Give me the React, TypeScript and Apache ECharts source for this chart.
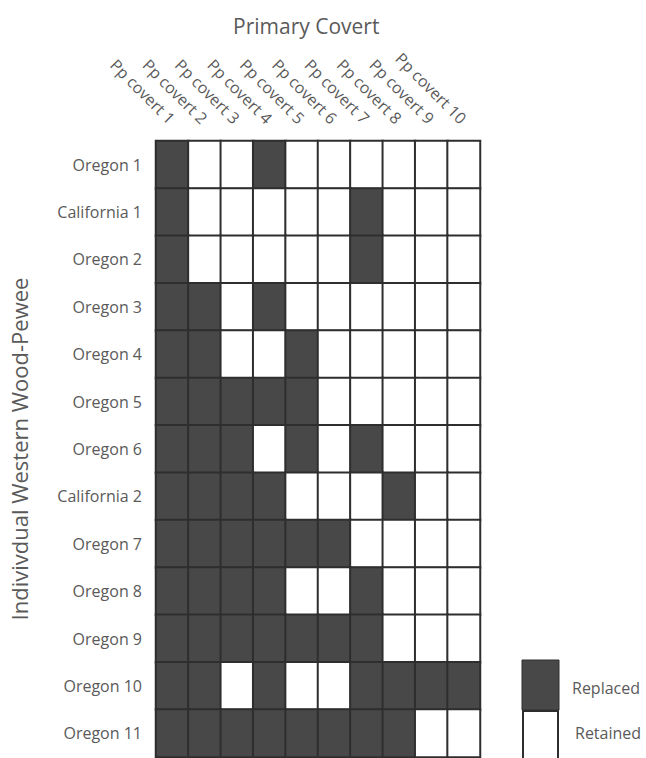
import React, { useEffect, useRef } from "react";
import * as echarts from "echarts";

const covers = ["Pp covert 1", "Pp covert 2", "Pp covert 3", "Pp covert 4", "Pp covert 5", "Pp covert 6", "Pp covert 7", "Pp covert 8", "Pp covert 9", "Pp covert 10"];
const individuals = ["Oregon 1", "California 1", "Oregon 2", "Oregon 3", "Oregon 4", "Oregon 5", "Oregon 6", "California 2", "Oregon 7", "Oregon 8", "Oregon 9", "Oregon 10", "Oregon 11"];

// 1 = Replaced, 0 = Retained
const oregon1 = [1, 0, 0, 1, 0, 0, 0, 0, 0, 0];
const california1 = [1, 0, 0, 0, 0, 0, 1, 0, 0, 0];
const oregon2 = [1, 0, 0, 0, 0, 0, 1, 0, 0, 0];
const oregon3 = [1, 1, 0, 1, 0, 0, 0, 0, 0, 0];
const oregon4 = [1, 1, 0, 0, 1, 0, 0, 0, 0, 0];
const oregon5 = [1, 1, 1, 1, 1, 0, 0, 0, 0, 0];
const oregon6 = [1, 1, 1, 0, 1, 0, 1, 0, 0, 0];
const california2 = [1, 1, 1, 1, 0, 0, 0, 1, 0, 0];
const oregon7 = [1, 1, 1, 1, 1, 1, 0, 0, 0, 0];
const oregon8 = [1, 1, 1, 1, 0, 0, 1, 0, 0, 0];
const oregon9 = [1, 1, 1, 1, 1, 1, 1, 0, 0, 0];
const oregon10 = [1, 1, 0, 1, 0, 0, 1, 1, 1, 1];
const oregon11 = [1, 1, 1, 1, 1, 1, 1, 1, 0, 0];

const rows = [oregon1, california1, oregon2, oregon3, oregon4, oregon5, oregon6, california2, oregon7, oregon8, oregon9, oregon10, oregon11];

const legendLabels = ["Replaced", "Retained"];

const FONT = "'Open Sans', 'Noto Sans', sans-serif";
const TEXT = "#5a5a5a";
const DARK = "#484848";
const LINE = "#2e2e2e";

export default function App() {
  const ref = useRef<HTMLDivElement>(null);
  useEffect(() => {
    document.body.style.margin = "0";
    const chart = echarts.init(ref.current!, null, { renderer: "svg" });
    const data: number[][] = [];
    rows.forEach((r, yi) => r.forEach((v, xi) => data.push([xi, yi, v])));
    chart.setOption({
      animation: false,
      backgroundColor: "#fff",
      textStyle: { fontFamily: FONT },
      title: {
        text: "Primary Covert",
        left: 228,
        top: 10,
        textStyle: { fontFamily: FONT, fontSize: 21, fontWeight: "normal", color: TEXT },
      },
      grid: { left: 155, top: 141, width: 325, height: 616 },
      xAxis: {
        type: "category",
        position: "top",
        data: covers,
        axisLine: { show: false },
        axisTick: { show: false },
        splitLine: { show: false },
        axisLabel: { rotate: 45, margin: 20, fontSize: 16, color: TEXT, fontFamily: FONT, interval: 0 },
      },
      yAxis: {
        type: "category",
        inverse: true,
        data: individuals,
        axisLine: { show: false },
        axisTick: { show: false },
        splitLine: { show: false },
        axisLabel: { margin: 14, fontSize: 16, color: TEXT, fontFamily: FONT, interval: 0 },
        name: "Indivivdual Western Wood-Pewee",
        nameLocation: "middle",
        nameRotate: 90,
        nameGap: 126,
        nameTextStyle: { fontSize: 22, color: TEXT, fontFamily: FONT },
      },
      visualMap: {
        show: false,
        type: "piecewise",
        dimension: 2,
        pieces: [
          { value: 1, color: DARK },
          { value: 0, color: "#ffffff" },
        ],
      },
      series: [
        {
          type: "heatmap",
          data,
          itemStyle: { borderColor: LINE, borderWidth: 2 },
          emphasis: { disabled: true },
        },
      ],
      graphic: [
        { type: "rect", shape: { x: 522, y: 660, width: 37, height: 50 }, style: { fill: DARK, stroke: LINE, lineWidth: 1 } },
        { type: "rect", shape: { x: 523, y: 711, width: 35, height: 50 }, style: { fill: "#fff", stroke: LINE, lineWidth: 2 } },
        { type: "text", x: 572, y: 688, style: { text: legendLabels[0], fontSize: 16, fill: TEXT, fontFamily: FONT, verticalAlign: "middle" } },
        { type: "text", x: 575, y: 733, style: { text: legendLabels[1], fontSize: 16, fill: TEXT, fontFamily: FONT, verticalAlign: "middle" } },
      ],
    });
    return () => chart.dispose();
  }, []);
  return <div ref={ref} style={{ width: 646, height: 758 }} />;
}
